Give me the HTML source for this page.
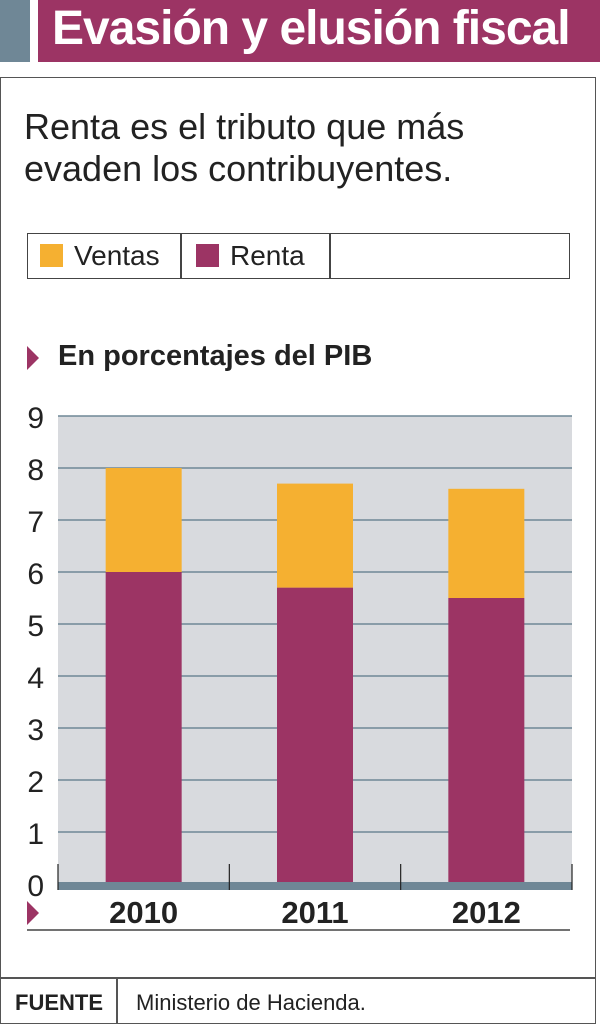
<!DOCTYPE html>
<html><head><meta charset="utf-8"><style>
body{margin:0;width:600px;height:1026px;background:#fff;position:relative;overflow:hidden;font-family:"Liberation Sans",sans-serif;}
.abs{position:absolute;}
</style></head><body>
<div class="abs" style="left:0;top:0;width:30px;height:62px;background:#6f8796"></div>
<div class="abs" style="left:38px;top:0;width:562px;height:62px;background:#9c3464;color:#fff;font-weight:bold;font-size:48px;line-height:58px;padding-left:14px;box-sizing:border-box;letter-spacing:-1px;white-space:nowrap;overflow:hidden">Evasión y elusión fiscal</div>
<div class="abs" style="left:0;top:77px;width:596px;height:947px;border:1.5px solid #555;box-sizing:border-box"></div>
<div class="abs" style="left:24px;top:106px;font-size:36px;line-height:42px;color:#222">Renta es el tributo que más<br>evaden los contribuyentes.</div>
<div class="abs" style="left:27px;top:233px;width:543px;height:46px;border:1.5px solid #444;box-sizing:border-box">
 <div class="abs" style="left:152px;top:0;width:1.5px;height:44px;background:#444"></div>
 <div class="abs" style="left:301px;top:0;width:1.5px;height:44px;background:#444"></div>
 <div class="abs" style="left:12px;top:10px;font-size:28px;color:#222;line-height:24px"><span style="display:inline-block;width:23px;height:23px;background:#f5b031;vertical-align:-2px;margin-right:11px"></span>Ventas</div>
 <div class="abs" style="left:168px;top:10px;font-size:28px;color:#222;line-height:24px"><span style="display:inline-block;width:23px;height:23px;background:#9c3464;vertical-align:-2px;margin-right:11px"></span>Renta</div>
</div>
<div class="abs" style="left:27px;top:346px;width:0;height:0;border-left:12px solid #9c3464;border-top:12px solid transparent;border-bottom:12px solid transparent"></div>
<div class="abs" style="left:58px;top:340px;font-size:29px;font-weight:bold;color:#222">En porcentajes del PIB</div>
<div class="abs" style="left:27px;top:901px;width:0;height:0;border-left:12px solid #9c3464;border-top:12px solid transparent;border-bottom:12px solid transparent"></div>
<div class="abs" style="left:0;top:977px;width:596px;height:1.5px;background:#555"></div>
<div class="abs" style="left:116px;top:978px;width:1.5px;height:46px;background:#555"></div>
<div class="abs" style="left:15px;top:990px;font-size:22px;font-weight:bold;color:#222">FUENTE</div>
<div class="abs" style="left:136px;top:990px;font-size:22px;color:#222">Ministerio de Hacienda.</div>
<svg id="chart" class="abs" style="left:0;top:0" width="600" height="1026"></svg>
<script>
const categories=["2010","2011","2012"];
const renta=[6.0,5.7,5.5];
const ventas=[2.0,2.0,2.1];
const yTicks=[0,1,2,3,4,5,6,7,8,9];
const NS="http://www.w3.org/2000/svg";
const svg=document.getElementById("chart");
const x0=58,x1=572,yTop=416,yZero=884,yMax=9;
const y=v=>yZero-(yZero-yTop)*v/yMax;
const band=(x1-x0)/categories.length;
const bx=i=>x0+band*i+band/2;
function mk(t,a){const e=document.createElementNS(NS,t);for(const k in a)e.setAttribute(k,a[k]);svg.appendChild(e);return e;}
let e=mk("rect",{x:x0,y:yTop,width:x1-x0,height:yZero-yTop,fill:"#d8dade"});


yTicks.forEach(t=>{
 if(t>0){const g=mk("line",{x1:x0,x2:x1,y1:y(t),y2:y(t),stroke:"#6f8796","stroke-width":1.5});
 
 }
 const l=mk("text",{x:44,y:y(t)+12,"text-anchor":"end","font-size":30,fill:"#222","font-family":"Liberation Sans, sans-serif"});
 l.textContent=t;
 
 
});
categories.forEach((c,i)=>{
 const w=76,cx=bx(i);
 const r=mk("rect",{x:cx-w/2,y:y(renta[i]),width:w,height:yZero-y(renta[i]),fill:"#9c3464"});
 
 
 const v=mk("rect",{x:cx-w/2,y:y(renta[i]+ventas[i]),width:w,height:y(renta[i])-y(renta[i]+ventas[i]),fill:"#f5b031"});
 
 
 const t=mk("text",{x:cx,y:923,"text-anchor":"middle","font-size":31,"font-weight":"bold",fill:"#222","font-family":"Liberation Sans, sans-serif"});
 t.textContent=c;
 
 
});
e=mk("rect",{x:x0,y:yZero-2,width:x1-x0,height:8,fill:"#6f8796"});


for(let i=0;i<=categories.length;i++){const tk=mk("line",{x1:x0+band*i,x2:x0+band*i,y1:yZero-20,y2:yZero+6,stroke:"#222","stroke-width":1.2});

}
e=mk("line",{x1:27,x2:570,y1:930,y2:930,stroke:"#444","stroke-width":1.5});


</script>
</body></html>
